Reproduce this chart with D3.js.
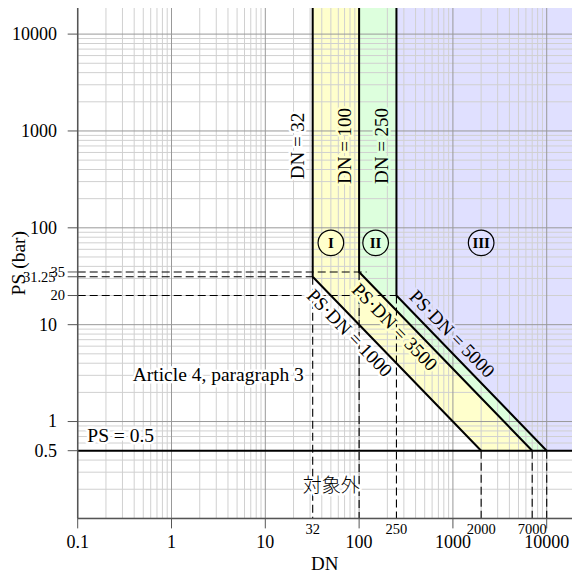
<!DOCTYPE html>
<html>
<head>
<meta charset="utf-8">
<script src="https://cdn.jsdelivr.net/npm/d3@7"></script>
<style>
  html, body { margin: 0; padding: 0; background: #fff; }
  svg { display: block; }
  text { font-family: "Liberation Serif", "DejaVu Serif", serif; fill: #000; }
</style>
</head>
<body>
<svg id="chart" width="572" height="573"></svg>
<script>
// ---------- data ----------
const boundaryDN      = [32, 100, 250];      // vertical limits DN
const boundaryPS      = [31.25, 35, 20];     // PS where vertical limits meet the product lines
const productValues   = [1000, 3500, 5000];  // PS·DN limits
const minPS           = 0.5;                 // PS = 0.5
const regionNames     = ["I", "II", "III"];
const regionLabelDN   = [50, 150, 2000];
const regionLabelPS   = 70;
const xTicksMajor     = [0.1, 1, 10, 100, 1000, 10000];
const xTicksSmall     = [32, 250, 2000, 7000];
const yTicksMajor     = [0.5, 1, 10, 100, 1000, 10000];
const yTicksSmall     = [20, 31.25, 35];
const domainMin = 0.1, domainMax = 18600;

(function () {
// ---------- scales ----------
const svg = d3.select("#chart");
const x = d3.scaleLog().domain([domainMin, domainMax]).range([77.7, 572]);
const y = d3.scaleLog().domain([domainMin, domainMax]).range([518.4, 8]);
const X0 = x.range()[0], X1 = x.range()[1], Y0 = y.range()[0], Y1 = y.range()[1];

const fills = ["#ffffcc", "#ddffdd", "#e0e0ff"];

// ---------- regions ----------
const topPS = domainMax;
const xAtMin = productValues.map(p => p / minPS); // 2000, 7000, 10000
const polys = [
  [[boundaryDN[0], topPS], [boundaryDN[0], boundaryPS[0]], [xAtMin[0], minPS], [xAtMin[1], minPS], [boundaryDN[1], boundaryPS[1]], [boundaryDN[1], topPS]],
  [[boundaryDN[1], topPS], [boundaryDN[1], boundaryPS[1]], [xAtMin[1], minPS], [xAtMin[2], minPS], [boundaryDN[2], boundaryPS[2]], [boundaryDN[2], topPS]],
  [[boundaryDN[2], topPS], [boundaryDN[2], boundaryPS[2]], [xAtMin[2], minPS], [domainMax, minPS], [domainMax, topPS]]
];
const line = d3.line().x(d => x(d[0])).y(d => y(d[1]));
svg.append("g").selectAll("path").data(polys).join("path")
  .attr("d", d => line(d) + "Z").attr("fill", (d, i) => fills[i]).attr("stroke", "none");

// ---------- grid ----------
const gridVals = [];
for (let e = -1; e <= 4; e++) for (let m = 1; m <= 9; m++) {
  const v = m * Math.pow(10, e);
  if (v >= domainMin && v <= domainMax) gridVals.push({v, major: m === 1});
}
const grid = svg.append("g");
grid.selectAll(".gx").data(gridVals.filter(d => !d.major)).join("line")
  .attr("x1", d => x(d.v)).attr("x2", d => x(d.v)).attr("y1", Y0).attr("y2", Y1)
  .attr("stroke", "#d0d0d0").attr("stroke-width", 1);
grid.selectAll(".gy").data(gridVals.filter(d => !d.major)).join("line")
  .attr("y1", d => y(d.v)).attr("y2", d => y(d.v)).attr("x1", X0).attr("x2", X1)
  .attr("stroke", "#d0d0d0").attr("stroke-width", 1);
grid.selectAll(".gxm").data(gridVals.filter(d => d.major)).join("line")
  .attr("x1", d => x(d.v)).attr("x2", d => x(d.v)).attr("y1", Y0).attr("y2", Y1)
  .attr("stroke", "#999").attr("stroke-width", 1);
grid.selectAll(".gym").data(gridVals.filter(d => d.major)).join("line")
  .attr("y1", d => y(d.v)).attr("y2", d => y(d.v)).attr("x1", X0).attr("x2", X1)
  .attr("stroke", "#999").attr("stroke-width", 1);

// ---------- dashed guide lines ----------
const dash = svg.append("g").attr("stroke", "#000").attr("stroke-width", 1.1)
  .attr("stroke-dasharray", "8,4").attr("fill", "none");
const hEnds = [boundaryDN[0], 120, boundaryDN[2]];
boundaryPS.forEach((p, i) => {
  dash.append("line").attr("x1", X0).attr("x2", x(hEnds[i])).attr("y1", y(p)).attr("y2", y(p));
});
boundaryDN.forEach((d, i) => {
  dash.append("line").attr("x1", x(d)).attr("x2", x(d)).attr("y1", y(boundaryPS[i])).attr("y2", Y0);
});
xAtMin.forEach(d => {
  dash.append("line").attr("x1", x(d)).attr("x2", x(d)).attr("y1", y(minPS)).attr("y2", Y0);
});

// ---------- solid boundary lines ----------
const solid = svg.append("g").attr("stroke", "#000").attr("stroke-width", 2).attr("fill", "none");
boundaryDN.forEach((d, i) => {
  solid.append("path").attr("d", line([[d, topPS], [d, boundaryPS[i]], [xAtMin[i], minPS]]));
});
solid.append("line").attr("x1", X0).attr("x2", X1).attr("y1", y(minPS)).attr("y2", y(minPS));

// ---------- axes ----------
const ax = svg.append("g").attr("stroke", "#555").attr("stroke-width", 1.5);
ax.append("line").attr("x1", X0).attr("x2", X0).attr("y1", Y1).attr("y2", Y0);
ax.append("line").attr("x1", X0).attr("x2", X1).attr("y1", Y0).attr("y2", Y0);
xTicksMajor.forEach(v => ax.append("line").attr("x1", x(v)).attr("x2", x(v)).attr("y1", Y0).attr("y2", Y0 + 10).attr("stroke-width", 1));
yTicksMajor.concat(yTicksSmall).forEach(v => ax.append("line").attr("x1", X0 - 10).attr("x2", X0).attr("y1", y(v)).attr("y2", y(v)).attr("stroke-width", 1));

const fmt = v => String(v);
svg.append("g").selectAll("text").data(xTicksMajor).join("text")
  .attr("x", d => x(d)).attr("y", 548).attr("text-anchor", "middle")
  .attr("font-size", 18).text(fmt);
svg.append("g").selectAll("text").data(xTicksSmall).join("text")
  .attr("x", d => x(d)).attr("y", 533.5).attr("text-anchor", "middle")
  .attr("font-size", 14.5).text(fmt);

svg.append("text").attr("transform", `translate(25,${(Y0 + Y1) / 2}) rotate(-90)`)
  .attr("text-anchor", "middle").attr("font-size", 19.5).text("PS (bar)");

svg.append("g").selectAll("text").data(yTicksMajor).join("text")
  .attr("x", 57).attr("y", d => y(d)).attr("dy", "0.33em").attr("text-anchor", "end")
  .attr("font-size", 18).text(fmt);
const smallX = {20: 65, 31.25: 55.5, 35: 65};
svg.append("g").selectAll("text").data(yTicksSmall).join("text")
  .attr("x", d => smallX[d]).attr("y", d => y(d)).attr("dy", "0.33em").attr("text-anchor", "end")
  .attr("font-size", 14.5).text(fmt);

svg.append("text").attr("x", (X0 + X1) / 2).attr("y", 570).attr("text-anchor", "middle")
  .attr("font-size", 19).text("DN");

// ---------- annotations ----------
function halo(sel, color) {
  return sel.attr("stroke", color).attr("stroke-width", 5).attr("stroke-linejoin", "round")
    .attr("paint-order", "stroke");
}
const vHalo = ["#ffffff", fills[0], fills[1]];
boundaryDN.forEach((d, i) => {
  halo(svg.append("text"), vHalo[i])
    .attr("transform", `translate(${x(d) - 8.5},${y(700)}) rotate(-90)`)
    .attr("text-anchor", "middle").attr("font-size", 19).text(`DN = ${d}`);
});

const ux = x(10) - x(1), uy = y(1) - y(10);
const ul = Math.hypot(ux, uy), ax_ = ux / ul, ay_ = uy / ul;
const ang = Math.atan2(uy, ux) * 180 / Math.PI;
const diagFoot = [99, 300, 774];
const diagOff  = [-12.5, -12.5, 13.5];
const diagHalo = ["#ffffff", fills[0], fills[2]];
productValues.forEach((p, i) => {
  const d = diagFoot[i];
  const px = x(d) + diagOff[i] * ay_;
  const py = y(p / d) - diagOff[i] * ax_;
  halo(svg.append("text"), diagHalo[i])
    .attr("transform", `translate(${px},${py}) rotate(${ang})`)
    .attr("text-anchor", "middle").attr("dominant-baseline", "central")
    .attr("font-size", 19).text(`PS·DN = ${p}`);
});

regionNames.forEach((n, i) => {
  const cx = x(regionLabelDN[i]), cy = y(regionLabelPS);
  svg.append("circle").attr("cx", cx).attr("cy", cy).attr("r", 12.8)
    .attr("fill", fills[i]).attr("stroke", "#000").attr("stroke-width", 1.2);
  svg.append("text").attr("x", cx).attr("y", cy).attr("dy", "0.35em").attr("text-anchor", "middle")
    .attr("font-size", 15).attr("font-weight", "bold").text(n);
});

halo(svg.append("text"), "#fff").attr("x", 132.7).attr("y", 381).attr("font-size", 19.5)
  .text("Article 4, paragraph 3");
halo(svg.append("text"), "#fff").attr("x", 87.3).attr("y", 441.7).attr("font-size", 19.5)
  .text(`PS = ${minPS}`);
halo(svg.append("text"), "#fff").attr("x", 302.7).attr("y", 492).attr("font-size", 19)
  .style("font-family", "'Noto Sans CJK JP', sans-serif").style("font-weight", 300)
  .text("対象外");
})();
</script>
</body>
</html>
